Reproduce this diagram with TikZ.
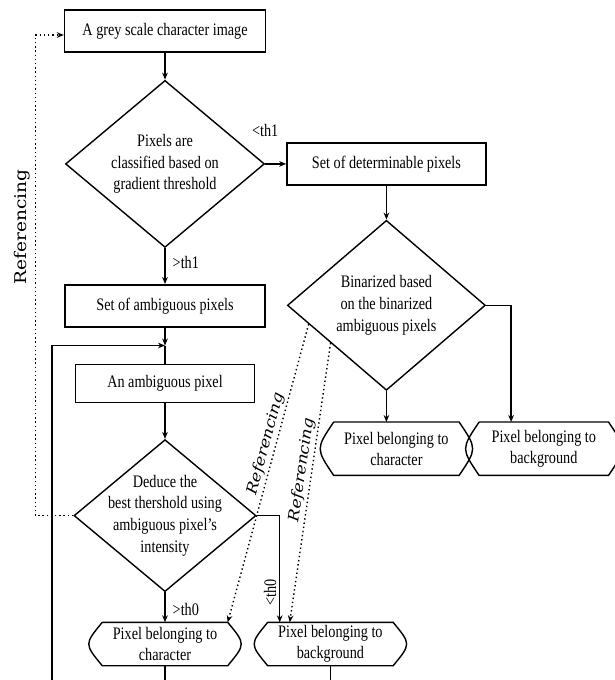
\documentclass[tikz,border=0pt]{standalone}
\usepackage{fontspec}
\setmainfont{Liberation Serif}[FakeStretch=0.81]
\newfontfamily\reffont{DejaVu Serif}[FakeStretch=1.15]
\usetikzlibrary{positioning, arrows.meta, shapes.geometric, calc}

\begin{document}
\begin{tikzpicture}[
        >={Stealth[length=5pt, width=4pt]},
        line width=1pt,
        procbox/.style={rectangle, draw, minimum height=1.05cm, minimum width=5cm,
                align=center, font=\fontsize{12.5}{15.5}\selectfont},
        decision/.style={diamond, draw, inner sep=-0.3cm, align=center,
                font=\fontsize{12.5}{15.5}\selectfont},
        endbox/.style={rectangle, minimum height=1.05cm, minimum width=3.1cm,
                inner sep=1pt, align=center, font=\fontsize{12.5}{15}\selectfont},
        arrow/.style={->},
        refline/.style={->, dotted},
        lbl/.style={font=\fontsize{12.5}{15}\selectfont, inner sep=2pt},
        reflabel/.style={font=\reffont\itshape\fontsize{10.5}{12}\selectfont, inner sep=1.5pt},
        sidelabel/.style={font=\reffont\fontsize{11.5}{13}\selectfont, inner sep=3pt},
    ]
    \useasboundingbox (0,0) rectangle (15.35,-17);

    % left column
    \node[procbox, minimum width=5.025cm] (start) at (4.125,-0.775) {A grey scale character image};
    \node[decision, minimum width=4.975cm, minimum height=4.175cm, below=0.675cm of start] (dia1)
        {Pixels are\\classified based on\\gradient threshold};
    \node[procbox, below=0.9cm of dia1] (amb) {Set of ambiguous pixels};
    \node[procbox, minimum width=4.475cm, minimum height=0.95cm, below=0.9cm of amb] (pix) {An ambiguous pixel};
    \node[decision, minimum width=4.55cm, minimum height=3.8cm, below=0.9cm of pix] (dia3)
        {Deduce the\\best thershold using\\ambiguous pixel's\\intensity};
    \node[endbox, below=0.75cm of dia3] (termA) {Pixel belonging to\\character};
    \node[endbox, right=1cm of termA] (termB) {Pixel belonging to\\background};

    % right column
    \node[procbox, minimum width=4.975cm, right=0.525cm of dia1] (det) {Set of determinable pixels};
    \node[decision, minimum width=4.95cm, minimum height=4.25cm, below=0.85cm of det] (dia2)
        {Binarized based\\on the binarized\\ambiguous pixels};
    \node[endbox, minimum height=1.3cm, below=0.775cm of dia2, xshift=0.25cm] (termC)
        {Pixel belonging to\\character};
    \node[endbox, minimum height=1.3cm, minimum width=3.2cm, right=0.5cm of termC] (termD)
        {Pixel belonging to\\background};

    \foreach \t in {termA, termB, termC, termD}
        \draw (\t.north west) -- (\t.north east) .. controls ([xshift=0.45cm]\t.east) .. (\t.south east)
            -- (\t.south west) .. controls ([xshift=-0.45cm]\t.west) .. (\t.north west);

    \coordinate (junc) at ($(amb.south)!0.5!(pix.north)$);
    \coordinate (loopin) at (1.3,-17);
    \coordinate (outA) at (termA.south |- loopin);
    \coordinate (outB) at (termB.south |- loopin);
    \coordinate (refA) at ($(dia2.west)!0.22!(dia2.south)$);
    \coordinate (refB) at ($(dia2.west)!0.44!(dia2.south)$);

    \draw[arrow] (start) -- (dia1);
    \draw[arrow] (dia1) -- node[lbl, pos=0, above=0.6cm] {<th1} (det);
    \draw[arrow] (dia1) -- node[lbl, pos=0.4, right=3pt] {>th1} (amb);
    \draw[arrow] (amb) -- (junc);
    \draw (junc) -- (pix);
    \draw[arrow] (loopin) |- (junc);
    \draw[arrow] (pix) -- (dia3);
    \draw[arrow] (dia3) -- node[lbl, pos=0.57, right=3pt] {>th0} (termA);
    \draw[arrow] (dia3.east) -| node[lbl, pos=0.86, rotate=90, anchor=south] {<th0} ([xshift=0.3cm]termB.north west);
    \draw (termA) -- (outA);
    \draw (termB) -- (outB);

    \draw[arrow] (det) -- (dia2);
    \draw[arrow] (dia2.south) -- (dia2.south |- termC.north);
    \draw[arrow] (dia2.east) -| ([xshift=0.8cm]termD.north west);

    % referencing links
    \draw[refline] (dia3.west) -- ++(-0.95,0)
        |- node[sidelabel, pos=0.3, sloped, above] {Referencing} ([yshift=-0.1cm]start.west);
    \draw[refline] (refA) -- node[reflabel, pos=0.41, sloped, above] {Referencing} (termA.north east);
    \draw[refline] (refB) -- node[reflabel, pos=0.46, sloped, above] {Referencing} ([xshift=0.55cm]termB.north west);

\end{tikzpicture}
\end{document}
